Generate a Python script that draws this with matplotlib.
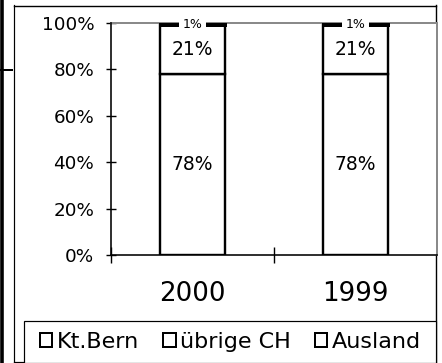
import matplotlib
matplotlib.use("Agg")
import matplotlib.pyplot as plt
from matplotlib.lines import Line2D
from matplotlib.patches import Rectangle
import numpy as np

# Data: share of visitors by origin, per year
years = ["2000", "1999"]
series_names = ["Kt.Bern", "übrige CH", "Ausland"]
kt_bern = [78, 78]
uebrige_ch = [21, 21]
ausland = [1, 1]
yticks = [0, 20, 40, 60, 80, 100]

W, H = 442, 363
DPI = 100
plt.rcParams["font.family"] = ["DejaVu Sans"]

fig = plt.figure(figsize=(W / DPI, H / DPI), dpi=DPI)
fig.patch.set_facecolor("white")


def fx(px):
    return px / W


def fy(py):
    return 1 - py / H


def pt(px):
    return px * 72 / DPI


# Page / frame lines around the chart
frame_kw = dict(transform=fig.transFigure, color="black", zorder=-5)
fig.add_artist(Line2D([fx(1.8), fx(1.8)], [0, 1], lw=pt(3.6), solid_capstyle="butt", **frame_kw))
fig.add_artist(Line2D([0, fx(12)], [fy(70), fy(70)], lw=pt(2), **frame_kw))
fig.add_artist(Line2D([fx(13.5), fx(13.5)], [fy(5), 0], lw=pt(1.2), **frame_kw))
fig.add_artist(Line2D([fx(13.5), fx(435.5)], [fy(5.5), fy(5.5)], lw=pt(1.4), **frame_kw))
fig.add_artist(Line2D([fx(435.5), fx(435.5)], [fy(5), 0], lw=pt(1.4), **frame_kw))
fig.add_artist(Line2D([fx(13.5), fx(100)], [fy(361.5), fy(361.5)], lw=pt(1.2), **frame_kw))
fig.add_artist(Line2D([fx(55), fx(55)], [fy(361.5), 0], lw=pt(1.2), **frame_kw))

# Plot area
ax = fig.add_axes([fx(111), fy(255), fx(437) - fx(111), fy(23) - fy(255)])
ax.set_facecolor("white")

x = np.arange(len(years))
width = 0.4
edge_lw = pt(2.4)
b1 = np.array(kt_bern, dtype=float)
b2 = b1 + np.array(uebrige_ch, dtype=float)

ax.bar(x, kt_bern, width, color="white", edgecolor="black", lw=edge_lw, label=series_names[0], zorder=3)
ax.bar(x, uebrige_ch, width, bottom=b1, color="white", edgecolor="black", lw=edge_lw, label=series_names[1], zorder=3)
ax.bar(x, ausland, width, bottom=b2, color="white", edgecolor="black", lw=pt(3), label=series_names[2], zorder=3)

# Value labels
for i in range(len(years)):
    ax.text(x[i], kt_bern[i] / 2, f"{kt_bern[i]}%", ha="center", va="center", fontsize=13.5, zorder=5)
    ax.text(x[i], b1[i] + uebrige_ch[i] / 2, f"{uebrige_ch[i]}%", ha="center", va="center", fontsize=13.5, zorder=5)
    ax.text(x[i], b2[i] + ausland[i] / 2, f"{ausland[i]}%", ha="center", va="center", fontsize=9,
            zorder=6, bbox=dict(boxstyle="square,pad=0.3", fc="white", ec="none"))

ax.set_xlim(-0.5, len(years) - 0.5)
ax.set_ylim(0, 100)

# Y axis
ax.set_yticks(yticks)
ax.set_yticklabels([f"{v}%" for v in yticks], fontsize=13.2)
ax.tick_params(axis="y", direction="inout", length=pt(10), width=pt(1.4), pad=8.5, colors="black")

# X axis: ticks at category boundaries, labels at centres
ax.set_xticks(x)
ax.set_xticklabels(years, fontsize=18.8)
ax.set_xticks(np.arange(-0.5, len(years) - 0.5, 1.0), minor=True)
ax.tick_params(axis="x", which="major", length=0, pad=19)
ax.tick_params(axis="x", which="minor", direction="inout", length=pt(16), width=pt(1.4))

for s in ("left", "bottom"):
    ax.spines[s].set_color("black")
    ax.spines[s].set_linewidth(pt(1.6))
for s in ("top", "right"):
    ax.spines[s].set_color("#8a8a8a")
    ax.spines[s].set_linewidth(pt(2))
ax.spines["left"].set_zorder(4)

# Legend in its own box
fig.add_artist(Rectangle((fx(23.5), fy(363)), fx(435.5) - fx(23.5), fy(320.5) - fy(363),
                         transform=fig.transFigure, fc="white", ec="black", lw=pt(1.2), zorder=1))
handles = [Rectangle((0, 0), 1, 1, fc="white", ec="black", lw=pt(2)) for _ in series_names]
fig.legend(handles, series_names, loc="center left", bbox_to_anchor=(fx(40), fy(342)),
           ncol=3, frameon=False, fontsize=16, handlelength=0.55, handleheight=0.55,
           handletextpad=0.2, columnspacing=1.1, borderpad=0, borderaxespad=0)

fig.savefig("out.png", dpi=DPI, facecolor="white")
